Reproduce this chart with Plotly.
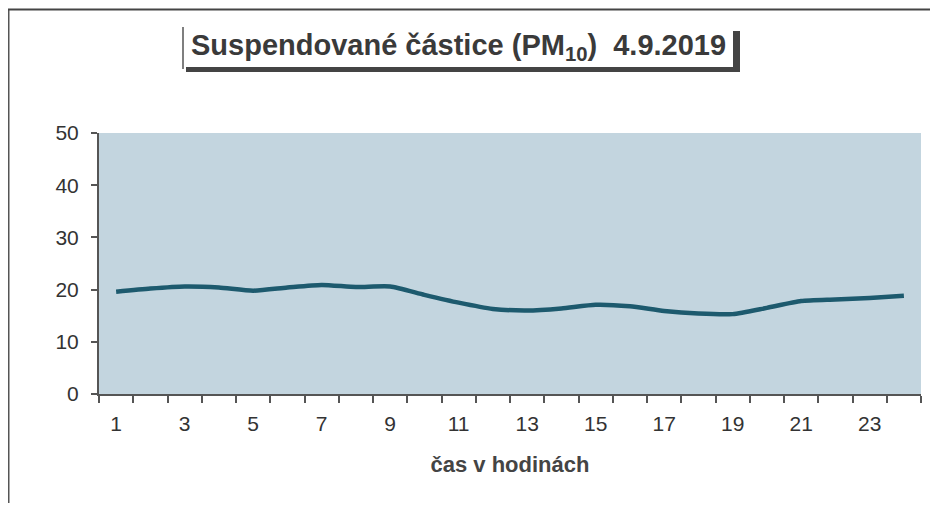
import plotly.graph_objects as go

hours = list(range(1, 25))
pm10 = [19.6, 20.2, 20.6, 20.4, 19.8, 20.4, 20.9, 20.5, 20.6, 19.0, 17.5, 16.3,
        16.0, 16.4, 17.1, 16.8, 15.9, 15.4, 15.3, 16.5, 17.8, 18.1, 18.4, 18.8]
x_tick_vals = list(range(1, 24, 2))
x_tick_text = [str(v) for v in x_tick_vals]
y_tick_vals = [0, 10, 20, 30, 40, 50]

# page body margin offset (screen px)
OFF = 8
W, H = 938 - 2 * OFF, 511 - 2 * OFF
# plot area in screen pixels: x 99..921, y 133..394
L = 99 - OFF
R = W - (921 - OFF)
T = 133 - OFF
B = H - (394 - OFF)
PW, PH = W - L - R, H - T - B


def px(sx):
    return (sx - OFF - L) / PW


def py(sy):
    return (H - B - (sy - OFF)) / PH


fig = go.Figure()
fig.add_trace(go.Scatter(
    x=hours, y=pm10, mode="lines",
    line=dict(color="#1d5a6e", width=4.5, shape="spline", smoothing=0.6),
    hoverinfo="x+y", showlegend=False,
))

font_family = "Liberation Sans, Arial, sans-serif"

shapes = [
    # page frame
    dict(type="line", xref="paper", yref="paper", x0=px(8.5), x1=px(8.5), y0=py(9), y1=py(511),
         line=dict(color="#555", width=2)),
    dict(type="line", xref="paper", yref="paper", x0=px(8), x1=px(930), y0=py(9.5), y1=py(9.5),
         line=dict(color="#444", width=2)),
    # title shadow
    dict(type="rect", xref="paper", yref="paper", x0=px(186), x1=px(740), y0=py(31), y1=py(72),
         fillcolor="#444", line=dict(width=0), layer="above"),
    # title box
    dict(type="rect", xref="paper", yref="paper", x0=px(183), x1=px(733), y0=py(27), y1=py(67),
         fillcolor="white", line=dict(width=0), layer="above"),
    dict(type="line", xref="paper", yref="paper", x0=px(183), x1=px(183), y0=py(27), y1=py(69),
         line=dict(color="#555", width=1.5), layer="above"),
]

annotations = [
    dict(text="<b>Suspendované částice (PM<sub>10</sub>)  4.9.2019</b>",
         xref="paper", yref="paper", x=px(458), y=py(47), xanchor="center", yanchor="middle",
         showarrow=False, font=dict(family=font_family, size=29, color="#3a3a3a")),
]

fig.update_layout(
    width=W, height=H,
    margin=dict(l=L, r=R, t=T, b=B),
    paper_bgcolor="white",
    plot_bgcolor="#c3d5df",
    shapes=shapes,
    annotations=annotations,
    font=dict(family=font_family, size=21, color="#333"),
    xaxis=dict(
        range=[0.5, 24.5], tickmode="array", tickvals=x_tick_vals, ticktext=x_tick_text,
        ticks="outside", ticklen=10, tickcolor="rgba(0,0,0,0)", showgrid=False, zeroline=False,
        showline=True, linecolor="#555", linewidth=2,
        tickfont=dict(size=21, color="#333"),
        minor=dict(tickmode="array", tickvals=[i + 0.5 for i in range(0, 25)],
                   ticks="outside", ticklen=7, tickcolor="#555", tickwidth=2, showgrid=False),
        title=dict(text="<b>čas v hodinách</b>", font=dict(size=22, color="#444"), standoff=22),
    ),
    yaxis=dict(
        range=[0, 50], tickmode="array", tickvals=y_tick_vals,
        ticks="outside", ticklen=6, tickcolor="#555", tickwidth=2, showgrid=False, zeroline=False,
        showline=True, linecolor="#555", linewidth=2, ticklabelstandoff=8,
        tickfont=dict(size=21, color="#333"),
    ),
)

fig.write_html("out.html")
